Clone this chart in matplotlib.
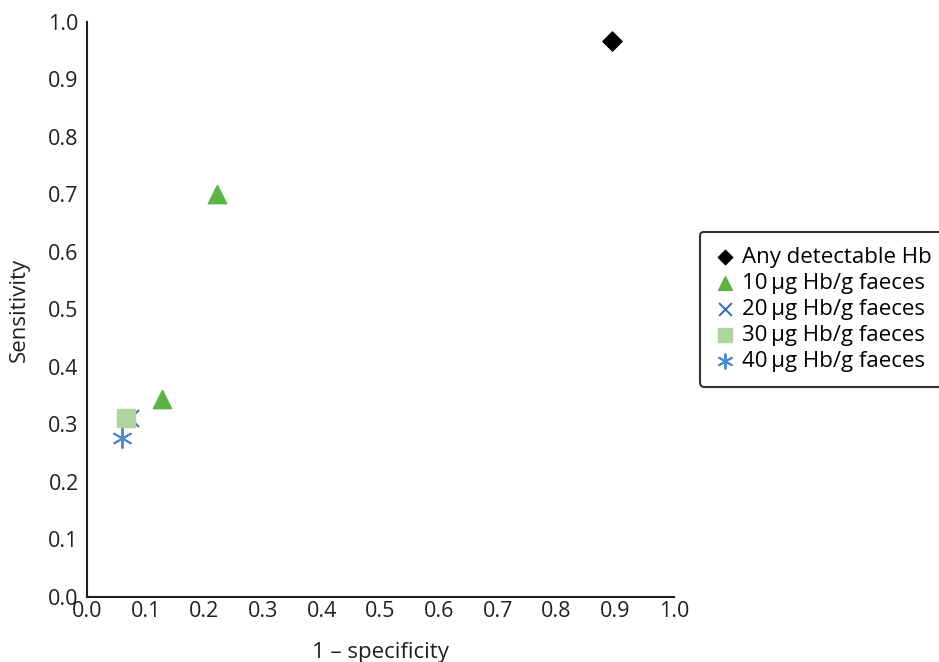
import matplotlib.pyplot as plt

plt.rcParams['font.family'] = ['Open Sans', 'DejaVu Sans']

# 1 - specificity / sensitivity for each FIT threshold
any_x = [0.894]
any_y = [0.967]
t10_x = [0.222, 0.128]
t10_y = [0.701, 0.344]
t20_x = [0.073]
t20_y = [0.311]
t30_x = [0.066]
t30_y = [0.311]
t40_x = [0.060]
t40_y = [0.276]

labels = ['Any detectable Hb',
          '10\u2009µg Hb/g faeces',
          '20\u2009µg Hb/g faeces',
          '30\u2009µg Hb/g faeces',
          '40\u2009µg Hb/g faeces']

ticks = [0.0, 0.1, 0.2, 0.3, 0.4, 0.5, 0.6, 0.7, 0.8, 0.9, 1.0]

fig = plt.figure(figsize=(9.39, 6.62), dpi=100)
ax = fig.add_axes([0.0927, 0.0982, 0.6251, 0.8686])

ax.scatter(any_x, any_y, marker='D', s=95, color='black', label=labels[0], zorder=3)
ax.scatter(t10_x, t10_y, marker='^', s=175, color='#5db446', label=labels[1], zorder=3)
ax.scatter(t20_x, t20_y, marker='x', s=150, color='#3a67b1', linewidths=1.4,
           label=labels[2], zorder=3)
ax.scatter(t30_x, t30_y, marker='s', s=185, color='#aed59e', label=labels[3], zorder=4)
ax.scatter(t40_x, t40_y, marker=(6, 2, 0), s=190, color='#4a8ad1', linewidths=1.4,
           label=labels[4], zorder=5)

ax.set_xlim(0, 1)
ax.set_ylim(0, 1)
ax.set_xticks(ticks)
ax.set_yticks(ticks)
ax.set_xticklabels([f'{t:.1f}' for t in ticks])
ax.set_yticklabels([f'{t:.1f}' for t in ticks])
ax.tick_params(length=0, labelsize=15.5, colors='#231f20')
ax.tick_params(axis='y', pad=6)
ax.tick_params(axis='x', pad=3)

for side in ['top', 'right']:
    ax.spines[side].set_visible(False)
for side in ['left', 'bottom']:
    ax.spines[side].set_linewidth(1.5)
    ax.spines[side].set_color('#231f20')

ax.set_xlabel('1 – specificity', fontsize=16, color='#231f20', labelpad=14)
ax.set_ylabel('Sensitivity', fontsize=16, color='#231f20', labelpad=13)

leg = ax.legend(loc='upper left', bbox_to_anchor=(0.7455, 0.6495),
                bbox_transform=fig.transFigure, fontsize=16,
                frameon=True, fancybox=True, edgecolor='black',
                handletextpad=0.3, handlelength=0.9, borderpad=0.68,
                borderaxespad=0, labelspacing=0.22, scatterpoints=1,
                markerscale=0.75)
leg.get_frame().set_linewidth(1.5)

fig.savefig('out.png', dpi=100)
